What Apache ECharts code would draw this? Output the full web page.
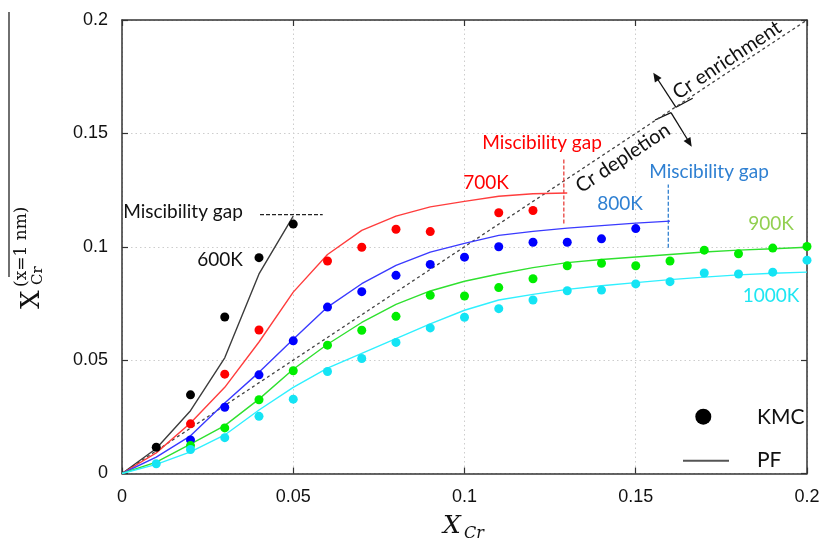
<!DOCTYPE html>
<html>
<head>
<meta charset="utf-8">
<script src="https://cdn.jsdelivr.net/npm/echarts@6.0.0/dist/echarts.min.js"></script>
<style>
  html, body { margin: 0; padding: 0; background: #fff; }
  #main { width: 827px; height: 544px; }
</style>
</head>
<body>
<div id="main"></div>
<script>
// phase-field (PF) curves
var pfX600 = [0, 0.01, 0.02, 0.03, 0.04, 0.05];
var pfY600 = [0, 0.011, 0.0277, 0.051, 0.088, 0.1135];
var pfX700 = [0, 0.01, 0.02, 0.03, 0.04, 0.05, 0.06, 0.07, 0.08, 0.09, 0.10, 0.11, 0.12, 0.13];
var pfY700 = [0, 0.0091, 0.0223, 0.038, 0.058, 0.080, 0.0966, 0.1072, 0.1135, 0.1176, 0.120, 0.1223, 0.1234, 0.1237];
var pfX800 = [0, 0.01, 0.02, 0.03, 0.04, 0.05, 0.06, 0.07, 0.08, 0.09, 0.10, 0.11, 0.12, 0.13, 0.14, 0.15, 0.16];
var pfY800 = [0, 0.0072, 0.0166, 0.0311, 0.0446, 0.0592, 0.0734, 0.0837, 0.0918, 0.0976, 0.1015, 0.105, 0.1068, 0.1082, 0.1093, 0.1104, 0.1113];
var pfX900 = [0, 0.01, 0.02, 0.03, 0.04, 0.05, 0.06, 0.07, 0.08, 0.09, 0.10, 0.11, 0.12, 0.13, 0.14, 0.15, 0.16, 0.17, 0.18, 0.19, 0.20];
var pfY900 = [0, 0.005, 0.013, 0.0211, 0.0328, 0.046, 0.057, 0.0666, 0.0746, 0.0805, 0.0848, 0.088, 0.0908, 0.093, 0.0944, 0.0955, 0.0966, 0.0977, 0.0985, 0.0991, 0.0998];
var pfX1000 = [0, 0.01, 0.02, 0.03, 0.04, 0.05, 0.06, 0.07, 0.08, 0.09, 0.10, 0.11, 0.12, 0.13, 0.14, 0.15, 0.16, 0.17, 0.18, 0.19, 0.20];
var pfY1000 = [0, 0.004, 0.0095, 0.017, 0.028, 0.038, 0.0465, 0.053, 0.0595, 0.066, 0.072, 0.0765, 0.079, 0.0812, 0.0828, 0.0842, 0.0855, 0.0866, 0.0876, 0.0883, 0.0888];

// kinetic monte carlo (KMC) points
var kmcX600 = [0.01, 0.02, 0.03, 0.04, 0.05];
var kmcY600 = [0.0116, 0.0347, 0.069, 0.0952, 0.110];
var kmcX700 = [0.02, 0.03, 0.04, 0.06, 0.07, 0.08, 0.09, 0.11, 0.12];
var kmcY700 = [0.0219, 0.0438, 0.0633, 0.0937, 0.0998, 0.1077, 0.1067, 0.115, 0.116];
var kmcX800 = [0.02, 0.03, 0.04, 0.05, 0.06, 0.07, 0.08, 0.09, 0.10, 0.11, 0.12, 0.13, 0.14, 0.15];
var kmcY800 = [0.0148, 0.0292, 0.0435, 0.0585, 0.0734, 0.0802, 0.0874, 0.0922, 0.0954, 0.100, 0.102, 0.102, 0.1035, 0.108];
var kmcX900 = [0.02, 0.03, 0.04, 0.05, 0.06, 0.07, 0.08, 0.09, 0.10, 0.11, 0.12, 0.13, 0.14, 0.15, 0.16, 0.17, 0.18, 0.19, 0.20];
var kmcY900 = [0.0123, 0.0201, 0.0325, 0.0453, 0.0566, 0.0632, 0.0693, 0.0786, 0.0783, 0.082, 0.0859, 0.0916, 0.0927, 0.0916, 0.0937, 0.0985, 0.0969, 0.0994, 0.1001];
var kmcX1000 = [0.01, 0.02, 0.03, 0.04, 0.05, 0.06, 0.07, 0.08, 0.09, 0.10, 0.11, 0.12, 0.13, 0.14, 0.15, 0.16, 0.17, 0.18, 0.19, 0.20];
var kmcY1000 = [0.0043, 0.0106, 0.0158, 0.0252, 0.0328, 0.045, 0.0507, 0.0578, 0.0642, 0.0689, 0.0727, 0.0765, 0.0806, 0.0809, 0.0836, 0.0846, 0.0884, 0.088, 0.0888, 0.0941];

// y = x reference and miscibility gap markers
var diagX = [0, 0.2];
var diagY = [0, 0.2];
var gapX600 = [0.0403, 0.0586];
var gapY600 = [0.1142, 0.1142];
var gapX700 = [0.129, 0.129];
var gapY700 = [0.1102, 0.1387];
var gapX800 = [0.1595, 0.1595];
var gapY800 = [0.0996, 0.1274];

var xTicks = [0, 0.05, 0.1, 0.15, 0.2];

function zip(xs, ys) {
    return xs.map(function (x, i) { return [x, ys[i]]; });
}

function pfLine(xs, ys, color) {
    return {
        type: 'line', data: zip(xs, ys), showSymbol: false, silent: true, z: 3,
        lineStyle: { color: color, width: 1.4 }
    };
}

function kmcDots(xs, ys, color) {
    return {
        type: 'scatter', data: zip(xs, ys), symbolSize: 9, clip: false, z: 5,
        itemStyle: { color: color, opacity: 1 }
    };
}

function dashLine(xs, ys, color, dash) {
    return {
        type: 'line', data: zip(xs, ys), showSymbol: false, silent: true, z: 2,
        lineStyle: { color: color, width: 1.3, type: dash }
    };
}

function arrowHead(x0, y0, x1, y1, len, half) {
    var dx = x1 - x0, dy = y1 - y0, L = Math.hypot(dx, dy);
    var ux = dx / L, uy = dy / L;
    var bx = x1 - ux * len, by = y1 - uy * len;
    return [[x1, y1], [bx - uy * half, by + ux * half], [bx + uy * half, by - ux * half]];
}

function label(text, cx, cy, color, rot, font) {
    return {
        type: 'text', x: cx, y: cy, rotation: rot || 0, z: 10,
        style: { text: text, x: 0, y: 0, font: font || '19px Lato', fill: color, textAlign: 'center', textVerticalAlign: 'middle' }
    };
}

var frame = { show: true, onZero: false, lineStyle: { color: '#333', width: 1.5 } };
var ticksIn = { show: true, inside: true, length: 6, lineStyle: { color: '#333', width: 1.2 } };
var tickFont = { fontSize: 18, color: '#111', fontFamily: 'Liberation Sans' };
var gridDots = { show: true, lineStyle: { color: '#cdcdcd', width: 1, type: [1.5, 3] } };

var chart = echarts.init(document.getElementById('main'));

// slope of the y = x line in pixels
var diagAngle = Math.atan2(453.5, 685);

var option = {
    animation: false,
    backgroundColor: '#fff',
    grid: { left: 122, right: 20, top: 20, bottom: 70.5, containLabel: false, outerBoundsMode: 'none' },
    xAxis: [
        {
            type: 'value', min: xTicks[0], max: xTicks[4], interval: 0.05,
            axisLine: frame, axisTick: ticksIn,
            axisLabel: Object.assign({ margin: 15 }, tickFont),
            splitLine: gridDots
        },
        {
            type: 'value', position: 'top', min: 0, max: 0.2, interval: 0.05,
            axisLine: frame, axisTick: ticksIn, axisLabel: { show: false }, splitLine: { show: false }
        }
    ],
    yAxis: [
        {
            type: 'value', min: 0, max: 0.2, interval: 0.05,
            axisLine: frame, axisTick: ticksIn,
            axisLabel: Object.assign({ margin: 14 }, tickFont),
            splitLine: gridDots
        },
        {
            type: 'value', position: 'right', min: 0, max: 0.2, interval: 0.05,
            axisLine: frame, axisTick: ticksIn, axisLabel: { show: false }, splitLine: { show: false }
        }
    ],
    series: [
        dashLine(diagX, diagY, '#444', [3, 3]),
        dashLine(gapX600, gapY600, '#222', [4, 2]),
        dashLine(gapX700, gapY700, '#e8403c', [4, 2]),
        dashLine(gapX800, gapY800, '#2f7fcf', [4, 2]),
        pfLine(pfX600, pfY600, '#3c3c3c'),
        pfLine(pfX700, pfY700, '#ff3d3d'),
        pfLine(pfX800, pfY800, '#3a3aff'),
        pfLine(pfX900, pfY900, '#2fe02f'),
        pfLine(pfX1000, pfY1000, '#2ff0ff'),
        kmcDots(kmcX600, kmcY600, '#000000'),
        kmcDots(kmcX700, kmcY700, '#ff0000'),
        kmcDots(kmcX800, kmcY800, '#0000ff'),
        kmcDots(kmcX900, kmcY900, '#00ee00'),
        kmcDots(kmcX1000, kmcY1000, '#14e4f4')
    ],
    graphic: [
        // annotations
        label('Miscibility gap', 183, 212, '#111'),
        label('600K', 220, 260, '#111'),
        label('Miscibility gap', 542, 143, '#ff0000'),
        label('700K', 486, 183, '#ff0000'),
        label('800K', 620, 204, '#2f80d2'),
        label('Miscibility gap', 709, 172, '#2f80d2'),
        label('900K', 771, 224, '#92d050'),
        label('1000K', 771, 296, '#1ee6f2'),
        label('Cr enrichment', 727, 60, '#111', diagAngle, '20px Lato'),
        label('Cr depletion', 623, 158, '#111', diagAngle, '20px Lato'),
        // enrichment / depletion brackets and arrows
        { type: 'line', shape: { x1: 676, y1: 107.3, x2: 692.7, y2: 98.3 }, style: { stroke: '#111', lineWidth: 1.3 } },
        { type: 'line', shape: { x1: 676, y1: 107.3, x2: 657.5, y2: 79 }, style: { stroke: '#111', lineWidth: 1.3 } },
        { type: 'polygon', shape: { points: arrowHead(676, 107.3, 653.3, 72.7, 9, 4) }, style: { fill: '#111' } },
        { type: 'line', shape: { x1: 655, y1: 120, x2: 671, y2: 112.7 }, style: { stroke: '#111', lineWidth: 1.3 } },
        { type: 'line', shape: { x1: 671, y1: 112.7, x2: 687.5, y2: 139.5 }, style: { stroke: '#111', lineWidth: 1.3 } },
        { type: 'polygon', shape: { points: arrowHead(671, 112.7, 691.7, 146.7, 9, 4) }, style: { fill: '#111' } },
        // legend
        { type: 'circle', shape: { cx: 703.3, cy: 416.7, r: 8 }, style: { fill: '#000' } },
        { type: 'text', x: 757, y: 417, style: { text: 'KMC', font: '21px Lato', fill: '#111', textVerticalAlign: 'middle' } },
        { type: 'line', shape: { x1: 683, y1: 460.7, x2: 729, y2: 460.7 }, style: { stroke: '#555', lineWidth: 2 } },
        { type: 'text', x: 757, y: 460, style: { text: 'PF', font: '21px Lato', fill: '#111', textVerticalAlign: 'middle' } },
        // x axis title
        { type: 'text', x: 443, y: 526, style: { text: 'X', font: 'italic 25px "DejaVu Serif"', fill: '#111', textVerticalAlign: 'middle' } },
        { type: 'text', x: 464, y: 534, style: { text: 'Cr', font: 'italic 16px "DejaVu Serif"', fill: '#111', textVerticalAlign: 'middle' } },
        // y axis title, rotated
        {
            type: 'group', x: 42, y: 309, rotation: Math.PI / 2,
            children: [
                { type: 'text', style: { text: 'X', x: 0, y: -9.5, font: '26px "DejaVu Serif"', fill: '#111', textVerticalAlign: 'middle' } },
                { type: 'text', style: { text: 'Cr', x: 24, y: -4, font: '15px "DejaVu Serif"', fill: '#111', textVerticalAlign: 'middle' } },
                { type: 'text', style: { text: '(x=1 nm)', x: 22, y: -20, font: '17px "DejaVu Serif"', fill: '#111', textVerticalAlign: 'middle' } }
            ]
        },
        { type: 'line', shape: { x1: 9, y1: 12, x2: 9, y2: 277 }, style: { stroke: '#222', lineWidth: 1.3 } }
    ]
};

chart.setOption(option);
</script>
</body>
</html>
